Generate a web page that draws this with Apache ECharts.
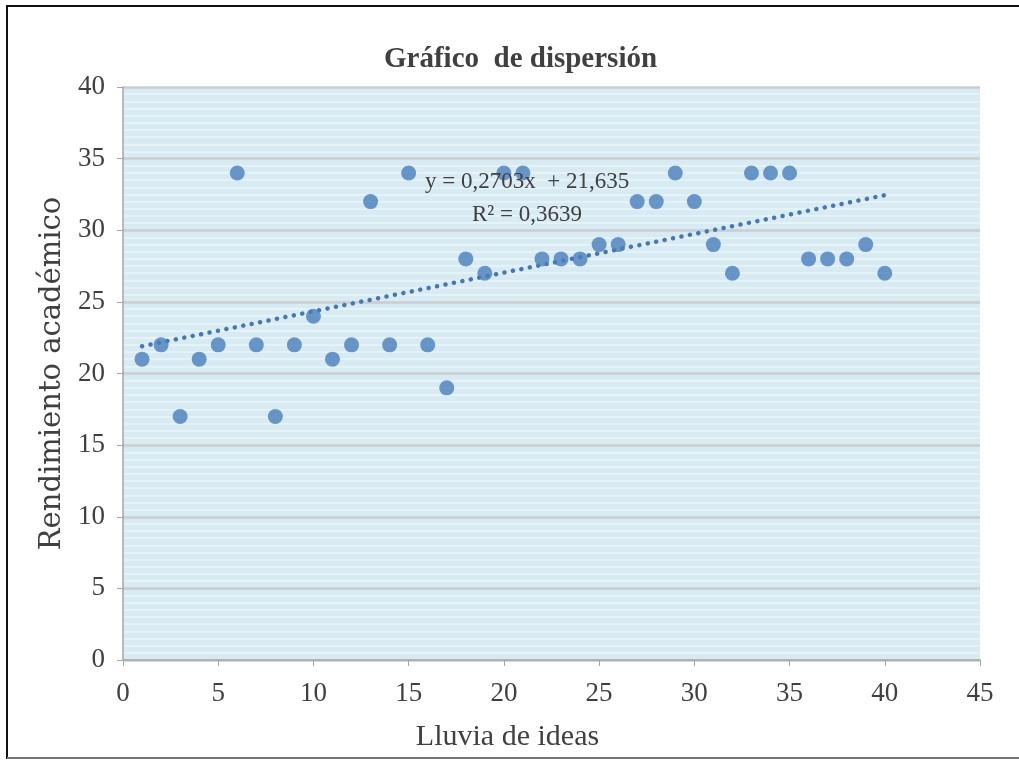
<!DOCTYPE html>
<html>
<head>
<meta charset="utf-8">
<script src="https://cdn.jsdelivr.net/npm/echarts@6/dist/echarts.min.js"></script>
<style>
  html, body { margin: 0; padding: 0; background: #fff; }
  #chart { width: 1019px; height: 760px; }
</style>
</head>
<body>
<div id="chart"></div>
<script>
// Lluvia de ideas (x) vs Rendimiento académico (y)
const ideas = [1, 2, 3, 4, 5, 6, 7, 8, 9, 10, 11, 12, 13, 14, 15, 16, 17, 18, 19, 20,
  21, 22, 23, 24, 25, 26, 27, 28, 29, 30, 31, 32, 33, 34, 35, 36, 37, 38, 39, 40];
const rendimiento = [21, 22, 17, 21, 22, 34, 22, 17, 22, 24, 21, 22, 32, 22, 34, 22, 19, 28, 27, 34,
  34, 28, 28, 28, 29, 29, 32, 32, 34, 32, 29, 27, 34, 34, 34, 28, 28, 28, 29, 27];

// linear trend as printed on the chart
const slope = 0.2703;
const intercept = 21.635;
const rSquared = '0,3639';

const chart = echarts.init(document.getElementById('chart'));
const serif = '"Liberation Serif", "DejaVu Serif", serif';
const wideSerif = '"DejaVu Serif", "Liberation Serif", serif';
const textColor = '#404040';

const points = ideas.map((x, i) => [x, rendimiento[i]]);
const xFirst = ideas[0];
const xLast = ideas[ideas.length - 1];
const trend = [
  [xFirst, slope * xFirst + intercept],
  [xLast, slope * xLast + intercept],
];

const option = {
  backgroundColor: '#fff',
  animation: false,
  title: {
    text: 'Gráfico  de dispersión',
    left: 379,
    top: 40,
    textStyle: { fontFamily: serif, fontSize: 29, fontWeight: 'bold', color: textColor },
  },
  grid: {
    left: 123, right: 39, top: 87, bottom: 100,
    show: true, backgroundColor: '#d8eaf2', borderWidth: 0,
  },
  xAxis: {
    type: 'value',
    min: 0, max: 45, interval: 5,
    name: 'Lluvia de ideas',
    nameLocation: 'middle',
    nameGap: 62,
    nameTextStyle: { fontFamily: serif, fontSize: 30, color: textColor, padding: [0, 88, 0, 0] },
    axisLine: { show: true, lineStyle: { color: '#a6a6a6', width: 1.5 } },
    axisTick: { show: true, length: 6, lineStyle: { color: '#a6a6a6' } },
    axisLabel: { fontFamily: serif, fontSize: 27, color: textColor, margin: 20 },
    splitLine: { show: false },
  },
  yAxis: {
    type: 'value',
    min: 0, max: 40, interval: 5,
    name: 'Rendimiento académico',
    nameLocation: 'middle',
    nameGap: 52,
    nameTextStyle: { fontFamily: wideSerif, fontSize: 29, color: textColor },
    axisLine: { show: true, lineStyle: { color: '#a6a6a6', width: 1.5 } },
    axisTick: { show: true, length: 6, inside: false, lineStyle: { color: '#a6a6a6' } },
    axisLabel: { fontFamily: serif, fontSize: 27, color: textColor, margin: 18 },
    splitLine: { show: true, lineStyle: { color: '#c9cdd0', width: 2.5 } },
    minorTick: { show: false, splitNumber: 10 },
    minorSplitLine: { show: true, lineStyle: { color: '#e9f5fa', width: 1.5 } },
  },
  graphic: [
    {
      type: 'rect', silent: true,
      shape: { x: 7, y: 6, width: 1030, height: 752 },
      style: { fill: 'none', stroke: '#111', lineWidth: 2 },
    },
    {
      type: 'line', silent: true,
      shape: { x1: 7, y1: 758, x2: 1019, y2: 758 },
      style: { stroke: '#999', lineWidth: 1.5 },
    },
    {
      type: 'text', left: 425, top: 170, silent: true, z: 100,
      style: { text: 'y = 0,2703x  + 21,635', fontFamily: serif, fontSize: 23, fill: textColor },
    },
    {
      type: 'text', left: 472, top: 203, silent: true, z: 100,
      style: { text: 'R² = ' + rSquared, fontFamily: serif, fontSize: 23, fill: textColor },
    },
  ],
  series: [
    {
      name: 'Tendencia',
      type: 'line',
      data: trend,
      showSymbol: false,
      z: 2,
      lineStyle: { color: '#4677b0', width: 4.5, type: [0.1, 8.5], cap: 'round' },
    },
    {
      name: 'Datos',
      type: 'scatter',
      data: points,
      symbolSize: 15,
      z: 3,
      itemStyle: { color: '#4a7ebb' },
    },
  ],
};

chart.setOption(option);
</script>
</body>
</html>
